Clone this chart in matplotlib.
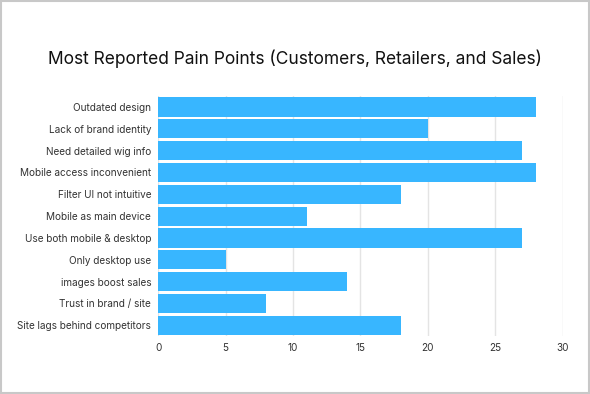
import matplotlib.pyplot as plt
from matplotlib.patches import Rectangle

plt.rcParams['font.family'] = ['Inter', 'DejaVu Sans']

categories = [
    'Outdated design',
    'Lack of brand identity',
    'Need detailed wig info',
    'Mobile access inconvenient',
    'Filter UI not intuitive',
    'Mobile as main device',
    'Use both mobile & desktop',
    'Only desktop use',
    'images boost sales',
    'Trust in brand / site',
    'Site lags behind competitors',
]
counts = [28, 20, 27, 28, 18, 11, 27, 5, 14, 8, 18]
x_ticks = [0, 5, 10, 15, 20, 25, 30]

fig = plt.figure(figsize=(5.9, 3.94), dpi=100)
ax = fig.add_axes([0.268, 0.147, 0.686, 0.609])

pos = list(range(len(categories)))
ax.barh(pos, counts, height=0.88, color='#38B6FF', zorder=3)
ax.set_yticks(pos)
ax.set_yticklabels(categories)
ax.set_ylim(len(categories) - 0.5, -0.5)
ax.set_xlim(0, 30)
ax.set_xticks(x_ticks)

ax.grid(axis='x', color='#E4E4E4', linewidth=1, zorder=0)
ax.tick_params(length=0, labelsize=7.2, labelcolor='#333333', pad=5)
for s in ax.spines.values():
    s.set_visible(False)

fig.text(0.5, 0.85, 'Most Reported Pain Points (Customers, Retailers, and Sales)',
         ha='center', va='center', fontsize=12.5, color='#111111')

fig.patches.append(Rectangle((0.002, 0.003), 0.996, 0.994, transform=fig.transFigure,
                             fill=False, edgecolor='#C8C8C8', linewidth=1.5))

fig.savefig('out.png', dpi=100)
